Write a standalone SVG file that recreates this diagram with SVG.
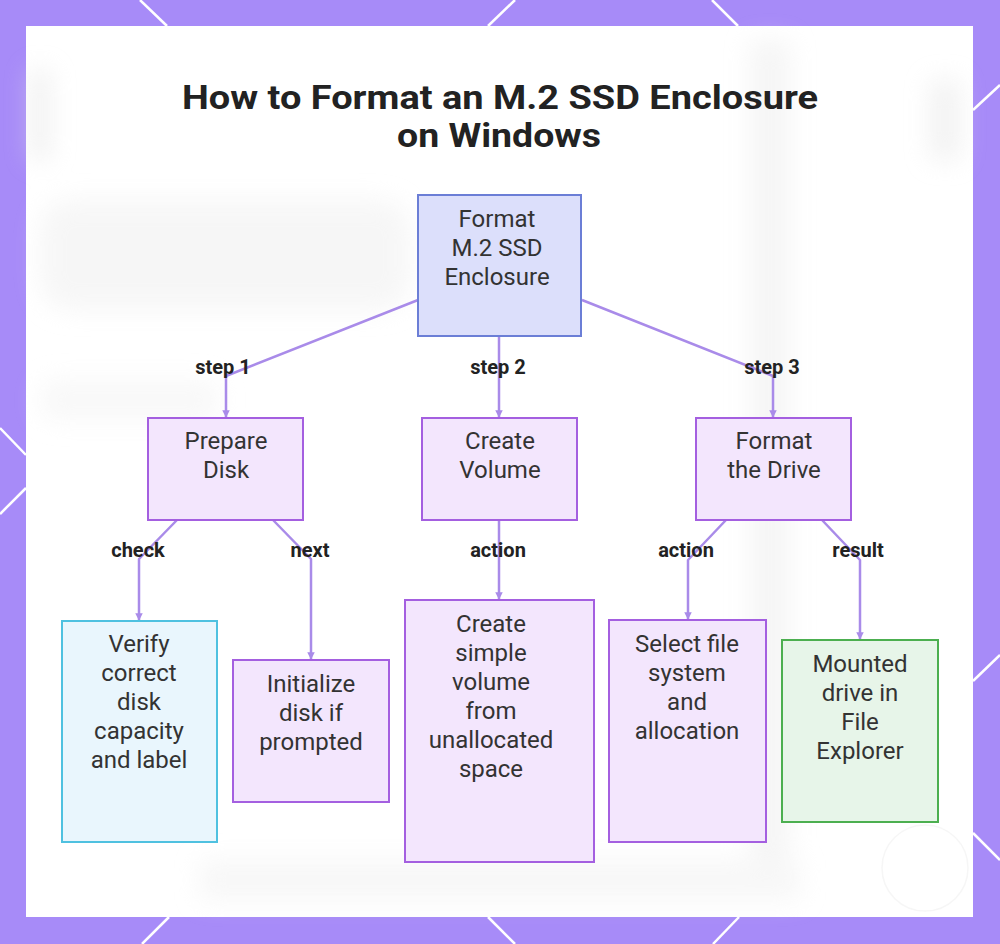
<svg xmlns="http://www.w3.org/2000/svg" width="1000" height="944" viewBox="0 0 1000 944">
  <defs>
    <style>
      .node-text { font-family: Roboto, "Liberation Sans", sans-serif; font-size: 24px; fill: #333333; text-anchor: middle; }
      .label { font-family: Roboto, "Liberation Sans", sans-serif; font-size: 20px; font-weight: bold; fill: #222222; text-anchor: middle; }
      .title { font-family: Roboto, "Liberation Sans", sans-serif; font-size: 33px; font-weight: bold; fill: #222222; text-anchor: middle; }
      .main { fill: #dcdffb; stroke: #6b7ed6; stroke-width: 2; }
      .step { fill: #f3e6fd; stroke: #a45fe0; stroke-width: 2; }
      .info { fill: #e9f6fd; stroke: #4fc1e0; stroke-width: 2; }
      .result { fill: #e7f5e9; stroke: #4caf50; stroke-width: 2; }
      .conn { fill: none; stroke: #a98be9; stroke-width: 2.5; stroke-linejoin: round; }
      .deco { stroke: #ffffff; stroke-width: 2.5; }
    </style>
    <marker id="arrow" viewBox="0 0 10 10" refX="9" refY="5" markerWidth="3" markerHeight="3" orient="auto" markerUnits="strokeWidth">
      <path d="M0,0 L10,5 L0,10 z" fill="#a98be9"/>
    </marker>
    <filter id="blur" x="-20%" y="-20%" width="140%" height="140%">
      <feGaussianBlur stdDeviation="12"/>
    </filter>
  </defs>

  <!-- frame -->
  <rect x="0" y="0" width="1000" height="944" fill="#a78bf8"/>
  <g id="frame-lines" class="deco">
    <line x1="140" y1="0" x2="167" y2="26"/>
    <line x1="488" y1="26" x2="515" y2="0"/>
    <line x1="712" y1="0" x2="738" y2="26"/>
    <line x1="973" y1="110" x2="1000" y2="85"/>
    <line x1="973" y1="681" x2="1000" y2="655"/>
    <line x1="973" y1="833" x2="1000" y2="860"/>
    <line x1="169" y1="917" x2="142" y2="944"/>
    <line x1="488" y1="917" x2="515" y2="944"/>
    <line x1="739" y1="917" x2="713" y2="944"/>
    <line x1="0" y1="428" x2="26" y2="455"/>
    <line x1="26" y1="488" x2="0" y2="514"/>
  </g>
  <rect x="26" y="26" width="947" height="891" fill="#ffffff"/>

  <!-- faint blurred background -->
  <g id="background" filter="url(#blur)" opacity="0.5">
    <rect x="30" y="70" width="20" height="90" fill="#e2e2e2"/>
    <rect x="750" y="40" width="40" height="860" fill="#ececec"/>
    <rect x="930" y="80" width="30" height="80" fill="#e6e6e6"/>
    <rect x="40" y="200" width="370" height="110" rx="30" fill="#eeeeee"/>
    <rect x="40" y="380" width="180" height="40" rx="15" fill="#f2f2f2"/>
    <rect x="200" y="860" width="600" height="40" fill="#f0f0f0"/>
  </g>
  <g id="watermark" opacity="0.35">
    <circle cx="925" cy="868" r="43" fill="none" stroke="#e6e6e6" stroke-width="1.5"/>
  </g>

  <!-- title -->
  <g id="title">
    <text class="title" x="500" y="109" textLength="636" lengthAdjust="spacingAndGlyphs">How to Format an M.2 SSD Enclosure</text>
    <text class="title" x="499" y="147" textLength="204" lengthAdjust="spacingAndGlyphs">on Windows</text>
  </g>

  <!-- connectors -->
  <g id="connectors">
    <polyline class="conn" points="418,300 226,376 226,417" marker-end="url(#arrow)"/>
    <polyline class="conn" points="499,337 499,417" marker-end="url(#arrow)"/>
    <polyline class="conn" points="582,300 773,376 773,417" marker-end="url(#arrow)"/>
    <polyline class="conn" points="177,520 139,559 139,620" marker-end="url(#arrow)"/>
    <polyline class="conn" points="273,520 311,559 311,659" marker-end="url(#arrow)"/>
    <polyline class="conn" points="499,520 499,599" marker-end="url(#arrow)"/>
    <polyline class="conn" points="726,520 688,560 688,619" marker-end="url(#arrow)"/>
    <polyline class="conn" points="822,520 860,560 860,639" marker-end="url(#arrow)"/>
    <g id="connector-labels">
      <text class="label" x="223" y="374">step 1</text>
      <text class="label" x="498" y="374">step 2</text>
      <text class="label" x="772" y="374">step 3</text>
      <text class="label" x="138" y="557">check</text>
      <text class="label" x="310" y="557">next</text>
      <text class="label" x="498" y="557">action</text>
      <text class="label" x="686" y="557">action</text>
      <text class="label" x="858" y="557">result</text>
    </g>
  </g>

  <!-- nodes -->
  <g id="node-root">
    <rect class="main" x="418" y="195" width="163" height="141"/>
    <text class="node-text" x="497" y="227">Format</text>
    <text class="node-text" x="497" y="256">M.2 SSD</text>
    <text class="node-text" x="497" y="285">Enclosure</text>
  </g>
  <g id="node-prepare">
    <rect class="step" x="148" y="418" width="155" height="102"/>
    <text class="node-text" x="226" y="449">Prepare</text>
    <text class="node-text" x="226" y="478">Disk</text>
  </g>
  <g id="node-create">
    <rect class="step" x="422" y="418" width="155" height="102"/>
    <text class="node-text" x="500" y="449">Create</text>
    <text class="node-text" x="500" y="478">Volume</text>
  </g>
  <g id="node-format">
    <rect class="step" x="696" y="418" width="155" height="102"/>
    <text class="node-text" x="774" y="449">Format</text>
    <text class="node-text" x="774" y="478">the Drive</text>
  </g>
  <g id="node-verify">
    <rect class="info" x="62" y="621" width="155" height="221"/>
    <text class="node-text" x="139" y="652">Verify</text>
    <text class="node-text" x="139" y="681">correct</text>
    <text class="node-text" x="139" y="710">disk</text>
    <text class="node-text" x="139" y="739">capacity</text>
    <text class="node-text" x="139" y="768">and label</text>
  </g>
  <g id="node-initialize">
    <rect class="step" x="233" y="660" width="156" height="142"/>
    <text class="node-text" x="311" y="692">Initialize</text>
    <text class="node-text" x="311" y="721">disk if</text>
    <text class="node-text" x="311" y="750">prompted</text>
  </g>
  <g id="node-simple-volume">
    <rect class="step" x="405" y="600" width="189" height="262"/>
    <text class="node-text" x="491" y="632">Create</text>
    <text class="node-text" x="491" y="661">simple</text>
    <text class="node-text" x="491" y="690">volume</text>
    <text class="node-text" x="491" y="719">from</text>
    <text class="node-text" x="491" y="748">unallocated</text>
    <text class="node-text" x="491" y="777">space</text>
  </g>
  <g id="node-select">
    <rect class="step" x="609" y="620" width="157" height="222"/>
    <text class="node-text" x="687" y="652">Select file</text>
    <text class="node-text" x="687" y="681">system</text>
    <text class="node-text" x="687" y="710">and</text>
    <text class="node-text" x="687" y="739">allocation</text>
  </g>
  <g id="node-mounted">
    <rect class="result" x="782" y="640" width="156" height="182"/>
    <text class="node-text" x="860" y="672">Mounted</text>
    <text class="node-text" x="860" y="701">drive in</text>
    <text class="node-text" x="860" y="730">File</text>
    <text class="node-text" x="860" y="759">Explorer</text>
  </g>
</svg>
